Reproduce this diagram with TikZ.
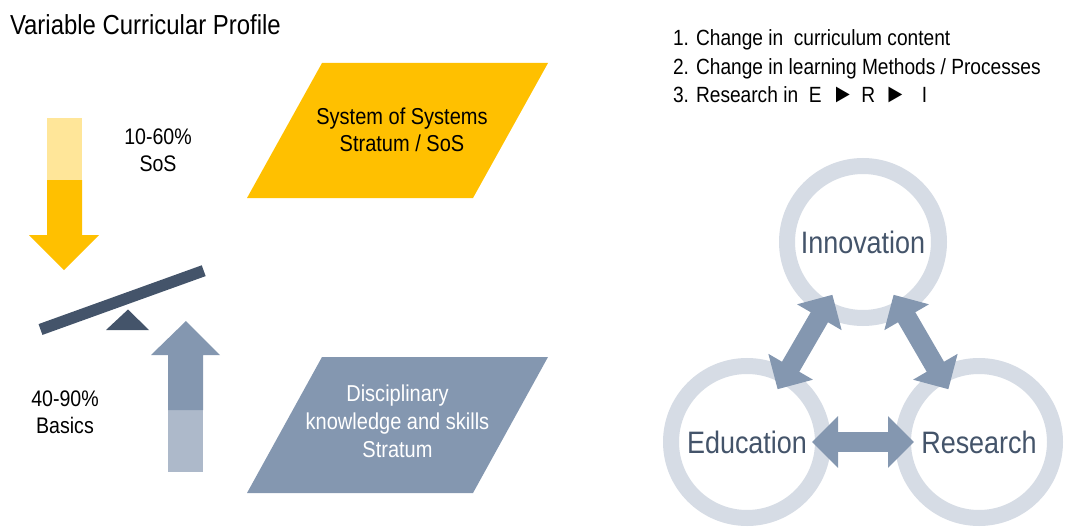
\documentclass[tikz,border=0pt]{standalone}
\usepackage{fontspec}
\usepackage{graphicx}
\setmainfont[FakeStretch=0.87]{Liberation Sans}
\usetikzlibrary{arrows.meta, positioning}

\definecolor{sosyellow}{HTML}{FFC000}
\definecolor{sospale}{HTML}{FFE699}
\definecolor{basicblue}{HTML}{8497B0}
\definecolor{basicpale}{HTML}{ADB9CA}
\definecolor{slate}{HTML}{44546A}
\definecolor{ringgrey}{HTML}{D6DCE5}

\newcommand{\stepmark}{\scalebox{1.2}{►}}

\begin{document}
\begin{tikzpicture}[x=1pt, y=-1pt, every node/.style={inner sep=0pt, outer sep=0pt},
						pcttext/.style={anchor=base, font=\fontsize{22.5}{27}\selectfont},
						listtext/.style={anchor=base west, font=\fontsize{22}{27}\selectfont},
						stratum/.style={align=center, font=\fontsize{23}{27}\selectfont},
						ring/.style={circle, draw=ringgrey, fill=white, line width=16pt,
							minimum size=152pt, text=slate, font=\fontsize{31}{33}\selectfont},
						biarrow/.style={draw=basicblue, line width=20pt,
							{Triangle[length=26pt, width=50pt]}-{Triangle[length=26pt, width=50pt]}}]

			\useasboundingbox (0,0) rectangle (1069,527);

			% Title
			\node (title) [anchor=base west, font=\fontsize{27.5}{30}\selectfont] at (10,35) {Variable Curricular Profile};

			% Arrows and the balance
			\fill[sospale] (47,118) rectangle (82,180);
			\fill[sosyellow] (47,180) -- (82,180) -- (82,235) -- (99,235) -- (64,270) -- (29,235) -- (47,235) -- cycle;
			\fill[basicpale] (168,410) rectangle (203,472);
			\fill[basicblue] (168,410) -- (203,410) -- (203,355) -- (220,355) -- (186,321) -- (151,355) -- (168,355) -- cycle;
			\draw[slate, line width=11.5pt] (40.5,329.5) -- (203.7,270.7);
			\fill[slate] (106,330) -- (149,330) -- (128,309.5) -- cycle;

			\node (pcttop) [pcttext] at (158,144.3) {10-60\%};
			\node (sostop) [below=27.5pt of pcttop.base, pcttext] {SoS};
			\node (pctlow) [pcttext] at (65,406.7) {40-90\%};
			\node (baslow) [below=26.7pt of pctlow.base, pcttext] {Basics};

			% Strata
			\fill[sosyellow] (322,63) -- (548,63) -- (473,198) -- (247,198) -- cycle;
			\node (sos) [stratum] at (402,130) {System of Systems\\Stratum / SoS};
			\fill[basicblue] (322,357) -- (548,357) -- (473,493) -- (247,493) -- cycle;
			\node (dks) [stratum, text=white, font=\fontsize{23}{28}\selectfont] at (397.5,421.5) {Disciplinary\\knowledge and skills\\Stratum};

			% List of changes
			\node (item1) [listtext] at (673,46) {1. Change in~ curriculum content};
			\node (item2) [below=28.5pt of item1.base west, listtext] {2. Change in learning Methods / Processes};
			\node (item3) [below=28pt of item2.base west, listtext] {3. Research in~ E\hspace{10pt}\stepmark\hspace{7pt}R\hspace{9pt}\stepmark\hspace{15pt}I};

			% Nodes for the triangle
			\node (inno) [ring] at (863,242) {Innovation};
			\node (edu) [ring] at (747,442) {Education};
			\node (res) [ring] at (979,442) {Research};

			% Arrows between the circles
			\draw[biarrow, shorten <=61pt, shorten >=61pt] (edu.center) -- (inno.center);
			\draw[biarrow, shorten <=61pt, shorten >=61pt] (inno.center) -- (res.center);
			\draw[biarrow, shorten <=65pt, shorten >=65pt] (edu.center) -- (res.center);

		\end{tikzpicture}
\end{document}
